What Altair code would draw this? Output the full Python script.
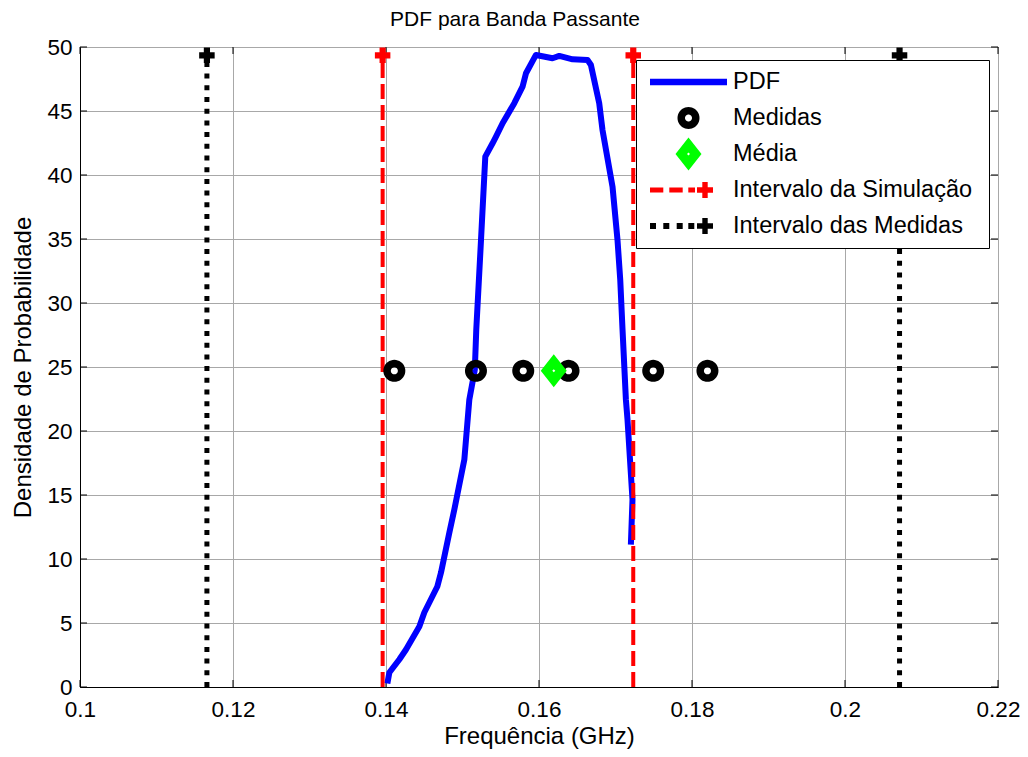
import math
import altair as alt
import pandas as pd

FONT = "Liberation Sans"

# ---------------- data ----------------
pdf_freq = [0.14018, 0.14044, 0.14174, 0.14262, 0.14436, 0.14501, 0.14671, 0.14719,
            0.14828, 0.14893, 0.15024, 0.15089, 0.15161, 0.15180, 0.15242, 0.15298,
            0.15393, 0.15438, 0.15524, 0.15677, 0.15785, 0.15830, 0.15960, 0.16177,
            0.16265, 0.16439, 0.16634, 0.16679, 0.16787, 0.16830, 0.16961, 0.17026,
            0.17062, 0.17092, 0.17136, 0.17157, 0.17222, 0.17201]
pdf_dens = [0.27, 1.13, 2.15, 2.93, 4.72, 5.82, 7.85, 8.94,
            12.06, 13.86, 17.76, 22.44, 24.79, 27.91, 34.93, 41.44,
            42.48, 43.00, 44.04, 45.61, 46.90, 47.95, 49.38, 49.12,
            49.30, 49.04, 48.99, 48.59, 45.61, 43.52, 39.09, 34.93,
            31.81, 27.91, 22.44, 20.88, 14.64, 11.12]

medidas_freq = [0.14109, 0.15176, 0.15794, 0.16386, 0.17493, 0.18202]
medidas_dens = [24.7, 24.7, 24.7, 24.7, 24.7, 24.7]

media_freq = [0.16193]
media_dens = [24.7]

sim_interval = [0.13956, 0.17232]
med_interval = [0.11659, 0.20713]
interval_top = 49.35

series_names = ["PDF", "Medidas", "Média", "Intervalo da Simulação", "Intervalo das Medidas"]
series_colors = ["#0000ff", "#000000", "#00ff00", "#ff0000", "#000000"]

x_ticks = [0.1, 0.12, 0.14, 0.16, 0.18, 0.2, 0.22]
y_ticks = [0, 5, 10, 15, 20, 25, 30, 35, 40, 45, 50]

# ---------------- symbol paths (styling) ----------------
SYM = 1296            # symbol area -> path unit = sqrt(SYM)/2 px
U = math.sqrt(SYM) / 2


def p(v):
    return f"{v / U:.4f}"


def poly(pts):
    s = "M" + "L".join(f"{p(x)},{p(y)}" for x, y in pts)
    return s + "Z"


def rect(x0, x1, y0, y1):
    return poly([(x0, y0), (x1, y0), (x1, y1), (x0, y1)])


def plus(cx, a, t):
    return poly([(cx - t, -a), (cx + t, -a), (cx + t, -t), (cx + a, -t), (cx + a, t),
                 (cx + t, t), (cx + t, a), (cx - t, a), (cx - t, t), (cx - a, t),
                 (cx - a, -t), (cx - t, -t)])


def circle(r, rev=False, n=40):
    pts = [(r * math.cos(2 * math.pi * k / n), r * math.sin(2 * math.pi * k / n)) for k in range(n)]
    if rev:
        pts = pts[::-1]
    return poly(pts)


# invisible extents: same height for every legend row, and the box width
EXT = f"M{p(-38.5)},{p(-17.5)}M{p(295.5)},{p(17.5)}"

path_pdf = EXT + rect(-38.5, 38.5, -3.3, 3.3)
path_medidas = EXT + circle(11) + circle(3.5, rev=True)
path_media = EXT + poly([(0, -16.5), (13, 0), (0, 16.5), (-13, 0)]) + poly([(0, -1.5), (-1.5, 0), (0, 1.5), (1.5, 0)])
path_sim = (EXT + rect(-38.5, -25.2, -2.5, 2.5) + rect(-19.2, -5.8, -2.5, 2.5)
            + rect(-0.2, 6.5, -2.5, 2.5) + plus(16.5, 8, 2.7))
path_med = (EXT + rect(-38.5, -32.5, -3, 3) + rect(-25.2, -19.2, -3, 3)
            + rect(-11.8, -5.8, -3, 3) + rect(-0.2, 5.8, -3, 3) + plus(16.5, 8, 2.7))
series_paths = [path_pdf, path_medidas, path_media, path_sim, path_med]

# ---------------- tables ----------------
pdf_df = pd.DataFrame({"freq": pdf_freq, "dens": pdf_dens, "idx": list(range(len(pdf_freq)))})
med_df = pd.DataFrame({"freq": medidas_freq, "dens": medidas_dens, "serie": ["Medidas"] * len(medidas_freq)})
media_df = pd.DataFrame({"freq": media_freq, "dens": media_dens})
sim_df = pd.DataFrame({"freq": sim_interval, "dens": [0, 0], "y1": [interval_top] * 2})
mint_df = pd.DataFrame({"freq": med_interval, "dens": [0, 0], "y1": [interval_top] * 2})
xt_df = pd.DataFrame({"freq": x_ticks})
yt_df = pd.DataFrame({"dens": y_ticks})

W, H = 918, 640
TICK = 7

xs = alt.Scale(domain=[0.1, 0.22], nice=False, zero=False)
ys = alt.Scale(domain=[0, 50], nice=False, zero=False)

x_axis = alt.Axis(values=x_ticks, format=".2~f", title="Frequência (GHz)", grid=True,
                  ticks=False, tickSize=0, labelPadding=11, labelFontSize=22.5, labelFont=FONT,
                  labelColor="black", labelFlush=False, titleFont=FONT, titleFontSize=24,
                  titleFontWeight="normal", titleColor="black", titlePadding=4,
                  gridColor="#a8a8a8", gridWidth=1, domainColor="black", domainWidth=1)
y_axis = alt.Axis(values=y_ticks, format="d", title="Densidade de Probabilidade", grid=True,
                  ticks=False, tickSize=0, labelPadding=8, labelFontSize=22.5, labelFont=FONT,
                  labelColor="black", labelFlush=False, titleFont=FONT, titleFontSize=24,
                  titleFontWeight="normal", titleColor="black", titlePadding=11,
                  gridColor="#a8a8a8", gridWidth=1, domainColor="black", domainWidth=1)

X = alt.X("freq:Q", scale=xs, axis=x_axis)
Y = alt.Y("dens:Q", scale=ys, axis=y_axis)

# inward tick marks on all four sides of the box (positions from the tick lists)
tick_bottom = alt.Chart(xt_df).mark_rule(color="black", strokeWidth=1).encode(
    x=X, y=alt.value(H), y2=alt.value(H - TICK))
tick_top = alt.Chart(xt_df).mark_rule(color="black", strokeWidth=1).encode(
    x=X, y=alt.value(0), y2=alt.value(TICK))
tick_left = alt.Chart(yt_df).mark_rule(color="black", strokeWidth=1).encode(
    y=Y, x=alt.value(0), x2=alt.value(TICK))
tick_right = alt.Chart(yt_df).mark_rule(color="black", strokeWidth=1).encode(
    y=Y, x=alt.value(W), x2=alt.value(W - TICK))

pdf_line = alt.Chart(pdf_df).mark_line(color="#0000ff", strokeWidth=6, strokeJoin="round").encode(
    x=X, y=Y, order="idx:Q")

sim_rule = alt.Chart(sim_df).mark_rule(color="#ff0000", strokeWidth=4, strokeDash=[15, 6]).encode(
    x=X, y=Y, y2="y1:Q")
mint_rule = alt.Chart(mint_df).mark_rule(color="#000000", strokeWidth=5, strokeDash=[5, 6.7]).encode(
    x=X, y=Y, y2="y1:Q")

sim_top = alt.Chart(sim_df).mark_point(shape="cross", filled=True, size=240, color="#ff0000", opacity=1).encode(
    x=X, y=alt.Y("y1:Q", scale=ys, axis=y_axis))
mint_top = alt.Chart(mint_df).mark_point(shape="cross", filled=True, size=240, color="#000000", opacity=1).encode(
    x=X, y=alt.Y("y1:Q", scale=ys, axis=y_axis))

leg = alt.Legend(title=None, orient="none", legendX=556, legendY=13, symbolSize=SYM,
                 symbolStrokeWidth=0, labelFontSize=23.5, labelFont=FONT, labelColor="black",
                 labelLimit=500, labelOffset=26.5, padding=4, rowPadding=0,
                 strokeColor="black", fillColor="white", symbolOffset=30.5)

medidas = alt.Chart(med_df).mark_point(filled=True, size=SYM, opacity=1, strokeWidth=0).encode(
    x=X, y=Y,
    shape=alt.Shape("serie:N", scale=alt.Scale(domain=series_names, range=series_paths), legend=leg),
    color=alt.Color("serie:N", scale=alt.Scale(domain=series_names, range=series_colors), legend=leg),
)

media = alt.Chart(media_df).mark_point(shape=path_media, filled=True, size=SYM, opacity=1,
                                       color="#00ff00", strokeWidth=0).encode(x=X, y=Y)

chart = alt.layer(tick_bottom, tick_top, tick_left, tick_right,
                  pdf_line, sim_rule, mint_rule, sim_top, mint_top, medidas, media).properties(
    width=W, height=H,
    title=alt.TitleParams("PDF para Banda Passante", font=FONT, fontSize=21, fontWeight="normal",
                          color="black", offset=18, anchor="middle", dx=-24, dy=12),
    padding={"left": 72, "top": 39, "right": 22, "bottom": 62},
    autosize=alt.AutoSizeParams(type="none"),
).configure(background="white").configure_view(stroke="black", strokeWidth=1)

chart.save("out.html", embed_options={"renderer": "svg", "actions": False})
